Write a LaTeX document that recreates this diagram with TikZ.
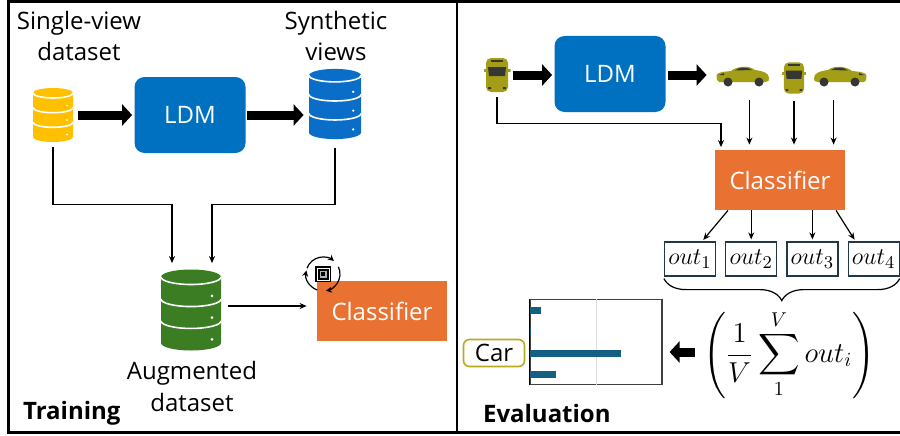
\documentclass[tikz,border=0pt]{standalone}
\usepackage{fontspec}
\setmainfont{Open Sans}
\usepackage{amsmath}
\usepackage{tikz}
\usetikzlibrary{arrows.meta,positioning,calc,decorations.pathreplacing}
\definecolor{ldmblue}{RGB}{0,112,192}
\definecolor{dbyellow}{RGB}{255,192,0}
\definecolor{dbblue}{RGB}{10,110,200}
\definecolor{dbgreen}{RGB}{58,125,34}
\definecolor{clsorange}{RGB}{233,113,50}
\definecolor{barteal}{RGB}{21,96,130}
\definecolor{carolive}{RGB}{163,158,22}
\definecolor{cardark}{RGB}{55,55,50}
\definecolor{tagolive}{RGB}{186,168,30}
\definecolor{outframe}{RGB}{35,55,75}

\begin{document}
\begin{tikzpicture}[
        x=0.5pt, y=0.5pt,
        font=\fontsize{12}{16}\selectfont,
        frame/.style={line width=1.5pt},
        ldm/.style={rectangle, rounded corners=5pt, fill=ldmblue, text=white, minimum width=55.5pt, minimum height=38pt},
        classifier/.style={rectangle, fill=clsorange, text=white, minimum width=65pt, minimum height=30pt},
        outbox/.style={rectangle, draw=outframe, line width=0.6pt, minimum width=25.5pt, minimum height=17pt, inner sep=0.6pt, font=\fontsize{13}{16}\selectfont},
        cartag/.style={rectangle, rounded corners=3pt, draw=tagolive, line width=0.8pt, minimum width=30.5pt, minimum height=13.5pt, inner sep=1pt},
        dbtext/.style={align=center},
        link/.style={draw, line width=0.6pt, -{Stealth[length=3.5pt,width=3pt]}},
        bigarrow/.style={line width=4.5pt, -{Triangle[length=5pt,width=10.5pt]}},
        outbrace/.style={decorate, decoration={brace, mirror, amplitude=11pt}, line width=0.6pt},
        % stacked database, drawn 40 x 54 units and scaled by #2
        dbstack/.style 2 args={rectangle, inner sep=0pt, minimum width=20pt*#2, minimum height=27pt*#2,
            path picture={
                \begin{scope}[shift={(path picture bounding box.center)}, x={(0.5pt*#2,0pt)}, y={(0pt,0.5pt*#2)}]
                    \fill[#1] (-20,22) -- (-20,-22) arc[start angle=180, end angle=360, x radius=20, y radius=5]
                        -- (20,22) arc[start angle=0, end angle=180, x radius=20, y radius=5] -- cycle;
                    \draw[white, line width=0.8pt]
                        (-20,22) arc[start angle=180, end angle=360, x radius=20, y radius=5]
                        (-20,7.3) arc[start angle=180, end angle=360, x radius=20, y radius=5]
                        (-20,-7.3) arc[start angle=180, end angle=360, x radius=20, y radius=5];
                    \fill[white] (14,9.4) circle[radius=1] (14,-5.1) circle[radius=1] (14,-19.6) circle[radius=1];
                \end{scope}
            }},
        % car seen from the side, 54 x 24 units, #1 = 1 or -1 for its heading
        sidecar/.style={rectangle, inner sep=0pt, minimum width=27pt, minimum height=12pt,
            path picture={
                \begin{scope}[shift={(path picture bounding box.center)}, x={(0.5pt*#1,0pt)}]
                    \fill[carolive] (-26,-4) .. controls (-27,2) .. (-21,4) -- (-12,5)
                        .. controls (-6,10) and (6,11) .. (12,6)
                        .. controls (20,5) and (26,3) .. (26,-2)
                        .. controls (26,-5) .. (22,-6) -- (-24,-6) -- cycle;
                    \fill[cardark] (-8,5.5) .. controls (-4,9) and (4,9.5) .. (9,6) -- cycle;
                    \fill[cardark] (-24,1) -- (-19,3) -- (-19,1) -- cycle;
                    \fill[cardark] (-15,-6) circle[radius=4.5] (16,-6) circle[radius=4.5];
                \end{scope}
            }},
        % car seen from above, 27 x 35 units
        topcar/.style={rectangle, inner sep=0pt, minimum width=13.5pt*#1, minimum height=17.5pt*#1,
            path picture={
                \begin{scope}[shift={(path picture bounding box.center)}, x={(0.5pt*#1,0pt)}, y={(0pt,0.5pt*#1)}]
                    \fill[carolive, rounded corners=2.5pt] (-11,-17) rectangle (11,17);
                    \fill[carolive] (-13.5,3) rectangle (13.5,6);
                    \fill[cardark] (-9,8) -- (9,8) -- (8,-1) -- (-8,-1) -- cycle;
                    \fill[cardark] (-6,13) rectangle (6,15);
                    \fill[cardark] (-9,-14) rectangle (-6,-12) (6,-14) rectangle (9,-12);
                \end{scope}
            }},
        chip/.style={rectangle, fill=black, minimum size=8pt, inner sep=0pt,
            path picture={
                \draw[white, line width=0.5pt] ($(path picture bounding box.center)+(-6,-6)$) rectangle +(12,12);
                \fill[gray!60] ($(path picture bounding box.center)+(-3.5,-3.5)$) rectangle +(7,7);
                \fill[black] ($(path picture bounding box.center)+(-1.8,-1.8)$) rectangle +(3.6,3.6);
            }}
    ]
        \useasboundingbox (0,0) rectangle (900,435);

        % Panels
        \draw[frame] (900,433) -- (8,433) -- (8,2.5) -- (900,2.5);
        \draw[line width=1.2pt] (457,2.5) -- (457,433);

        % Training: datasets
        \node[dbstack={dbyellow}{1}] (ydb) at (53,320) {};
        \node[ldm] (ldmL) at (190,320) {LDM};
        \node[dbstack={dbblue}{1.3}] (bdb) at (335,331) {};
        \node[dbstack={dbgreen}{1.5}] (gdb) at (191,125) {};
        \node[classifier] (clsL) at (382,124) {Classifier};

        \node[dbtext] (ytext) at (79,399) {Single-view\\dataset};
        \node[dbtext] (btext) at (336,399) {Synthetic\\views};
        \node[dbtext] (gtext) at (192,49) {Augmented\\dataset};
        \node[anchor=west, font=\fontsize{12}{16}\selectfont\bfseries] (train) at (16,22) {Training};

        % Training: flow
        \draw[bigarrow, shorten <=2.5pt, shorten >=1pt] (ydb) -- (ldmL);
        \draw[bigarrow, shorten <=0.5pt, shorten >=2.5pt] (ldmL) -- (bdb.west |- ldmL);
        \draw[link, shorten <=2.5pt] (ydb.south) |- ($(gdb.north)+(-19,65)$) -- ($(gdb.north)+(-19,6)$);
        \draw[link, shorten <=4pt] (bdb.south) |- ($(gdb.north)+(21,65)$) -- ($(gdb.north)+(21,6)$);
        \draw[link, shorten <=3.5pt, shorten >=5pt] ([yshift=2pt]gdb.east) -- ([yshift=2pt]gdb.east -| clsL.west);

        % Training: update icon
        \node[chip] (chipL) at (323,161) {};
        \draw[line width=0.6pt, -{Stealth[length=3pt,width=3pt]}] ([shift={(160:17)}]chipL.center) arc[start angle=160, end angle=50, radius=17];
        \draw[line width=0.6pt, -{Stealth[length=3pt,width=3pt]}] ([shift={(25:17)}]chipL.center) arc[start angle=25, end angle=-80, radius=17];
        \draw[line width=0.6pt, -{Stealth[length=3pt,width=3pt]}] ([shift={(250:17)}]chipL.center) arc[start angle=250, end angle=168, radius=17];

        % Evaluation: views
        \node[topcar=1] (car0) at (497,360) {};
        \node[ldm] (ldmR) at (610,361) {LDM};
        \node[sidecar=1] (car1) at (743,359) {};
        \node[topcar=0.92] (car2) at (794,357) {};
        \node[sidecar=-1] (car3) at (840,359) {};
        \node[classifier] (clsR) at (780,255) {Classifier};

        \draw[bigarrow, shorten <=1pt, shorten >=1pt] (car0.east) -- (ldmR.west |- car0.east);
        \draw[bigarrow, shorten <=1pt, shorten >=4.5pt] (ldmR.east |- car0.east) -- (car1.west |- car0.east);
        \draw[link, shorten <=2pt] (car0.south) |- ($(clsR.north)+(-59,26)$) -- ($(clsR.north)+(-59,2.5)$);
        \draw[link, shorten <=6pt, shorten >=2.5pt] ([xshift=3.2pt]car1.south) -- ([xshift=3.2pt]car1.south |- clsR.north);
        \draw[link, shorten <=3pt, shorten >=2.5pt] (car2.south) -- (car2.south |- clsR.north);
        \draw[link, shorten <=6pt, shorten >=2.5pt] ([xshift=-3.2pt]car3.south) -- ([xshift=-3.2pt]car3.south |- clsR.north);

        % Evaluation: outputs
        \node[outbox] (out1) at (690,176) {$out_1$};
        \node[outbox, right=4.5pt of out1] (out2) {$out_2$};
        \node[outbox, right=4.5pt of out2] (out3) {$out_3$};
        \node[outbox, right=4.5pt of out3] (out4) {$out_4$};

        \draw[link, shorten >=1pt] ([xshift=-26pt]clsR.south) -- ([xshift=6pt]out1.north);
        \draw[link, shorten >=1pt] (out2.north |- clsR.south) -- (out2.north);
        \draw[link, shorten >=1pt] (out3.north |- clsR.south) -- (out3.north);
        \draw[link, shorten >=1pt] ([xshift=28pt]clsR.south) -- ([xshift=-9pt]out4.north);
        \draw[outbrace] ([yshift=-1pt]out1.south west) -- ([yshift=-1pt]out4.south east);

        % Evaluation: averaging and prediction
        \node[font=\fontsize{14}{16}\selectfont, inner sep=0pt] (avg) at (789,79)
            {$\displaystyle\left(\rule[-20pt]{0pt}{46pt}\frac{1}{V}\sum_{1}^{V} out_i\right)$};
        \node[rectangle, draw=black!75, line width=0.6pt, minimum width=66pt, minimum height=42.5pt, inner sep=0pt] (chart) at (596,93) {};
        \draw[gray!25, line width=0.8pt] ($(chart.south west)+(67,0)$) -- ($(chart.north west)+(67,0)$);
        \foreach \len/\pos in {12/71, 2/50, 92/28, 27/7}
            \fill[barteal] ($(chart.south west)+(0,\pos)$) rectangle +(\len,7.5);
        \draw[line width=0.8pt] (chart.south west) -- (chart.north west);
        \node[cartag] (pred) at (494,82) {Car};

        \draw[bigarrow, shorten <=4pt, shorten >=3.5pt] ([yshift=2pt]avg.west) -- ([yshift=2pt]avg.west -| chart.east);

        \node[anchor=west, font=\fontsize{12}{16}\selectfont\bfseries] (evalt) at (476,22) {Evaluation};

    \end{tikzpicture}
\end{document}
